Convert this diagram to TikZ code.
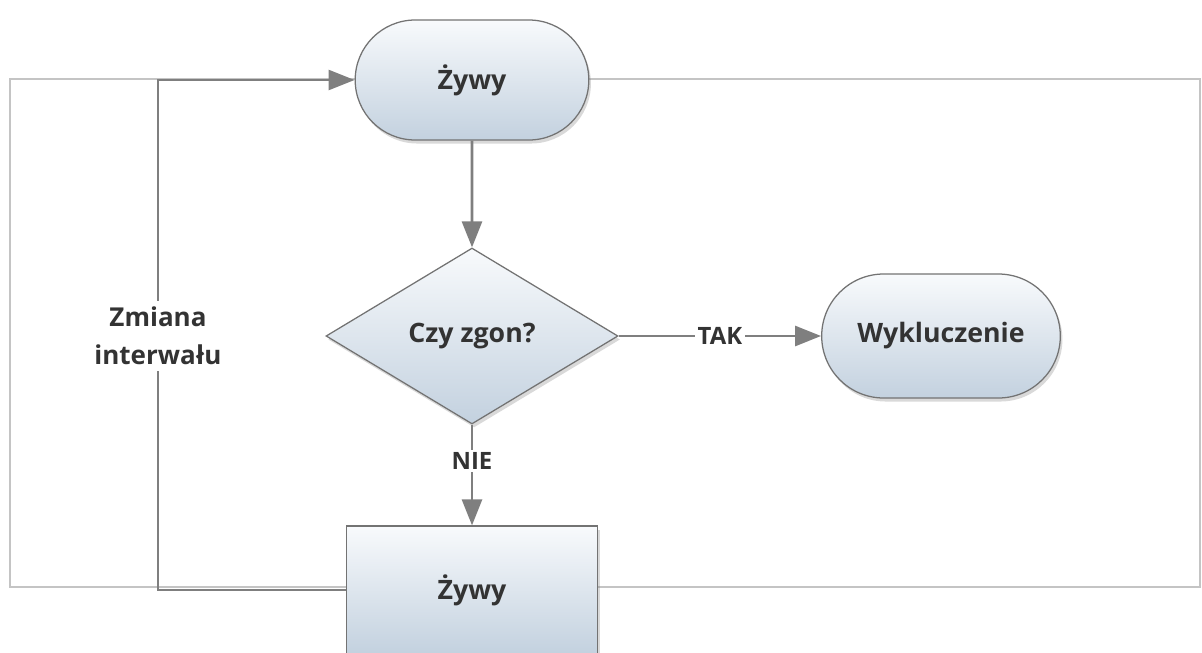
\documentclass[tikz,border=0pt]{standalone}
\usepackage{fontspec}
\setmainfont{Open Sans}
\usetikzlibrary{shapes.geometric,shapes.misc,arrows.meta,shadows}
\definecolor{liniaSzara}{HTML}{7F7F7F}
\definecolor{ramka}{HTML}{C4C4C4}
\definecolor{gora}{HTML}{F8FAFC}
\definecolor{dol}{HTML}{C3D1DF}
\definecolor{tekst}{HTML}{333333}

\begin{document}
\begin{tikzpicture}[x=0.25mm, y=-0.25mm, >={Triangle[length=6.5mm, width=5mm]},
    blok/.style={draw=black!55, line width=0.9pt, top color=gora, bottom color=dol,
        text=tekst, font=\fontsize{19}{23}\selectfont\bfseries,
        drop shadow={shadow xshift=1.5pt, shadow yshift=-2.5pt, opacity=0.3}},
    strzalka/.style={draw=liniaSzara, line width=2pt},
    etykieta/.style={fill=white, inner sep=2pt, text=tekst, font=\fontsize{17}{20}\selectfont\bfseries}]
    \useasboundingbox (0,0) rectangle (1202,652);

    % 1. ramka tla
    \draw[ramka, line width=1.1pt] (10,79) rectangle (1200,587);

    % 2. bloki
    \node[blok, rounded rectangle, minimum width=60.75mm, minimum height=30mm] (zywyA) at (472,80) {Żywy};
    \node[blok, diamond, aspect=1.66, inner sep=0pt, minimum width=73mm, minimum height=44mm] (decyzja) at (472,336) {Czy zgon?};
    \node[blok, rounded rectangle, minimum width=62mm, minimum height=31mm] (wykl) at (941,336) {Wykluczenie};
    \node[blok, rectangle, minimum width=62.75mm, minimum height=32mm] (zywyB) at (472,590) {Żywy};

    % 3. strzalki
    \draw[strzalka, ->] (zywyA) -- (decyzja);
    \draw[strzalka, ->] (decyzja) -- node[etykieta] {TAK} (wykl);
    \draw[strzalka, ->] (decyzja) -- node[etykieta, pos=0.36] {NIE} (zywyB);

    % 4. petla z powrotem do gory
    \coordinate (petla) at (158,336);
    \draw[strzalka, line width=1.8pt, ->] (zywyB.west) -| (petla) |- (zywyA.west);
    \node[etykieta, align=center, inner sep=4pt, font=\fontsize{18.5}{27}\selectfont\bfseries] (zmiana) at (petla) {Zmiana\\interwału};
\end{tikzpicture}
\end{document}
